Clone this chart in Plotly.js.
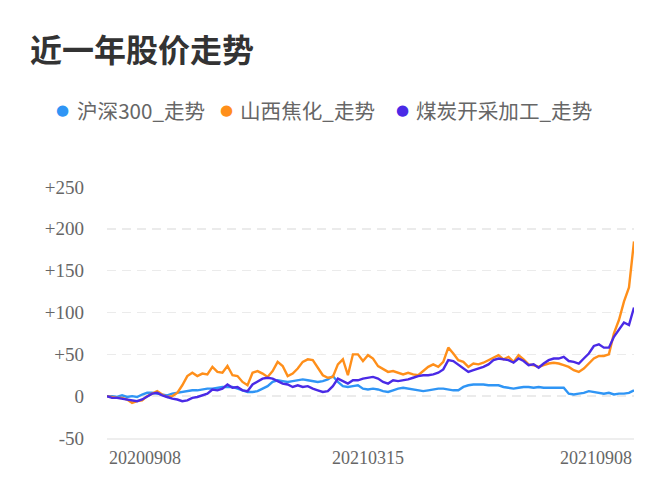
<!DOCTYPE html>
<html>
<head>
<meta charset="utf-8">
<script src="https://cdn.plot.ly/plotly-3.0.1.min.js"></script>
<style>
  html, body { margin: 0; padding: 0; background: #fff; }
  #chart { width: 672px; height: 500px; }
</style>
</head>
<body>
<div id="chart"></div>
<script>
/* ─── Data (percent change over the year, sampled) ─────────────────────── */
const seriesNames = ["沪深300_走势", "山西焦化_走势", "煤炭开采加工_走势"];
const seriesColors = ["#2f95f5", "#ff8f1a", "#4a2ae6"];

const hs300 = [
  0, 0, -1, 1, -1, 0, -1, 2, 4, 4, 3, 2, 1, 3, 4, 5, 6, 7, 7, 8,
  9, 9, 10, 11, 11, 11, 9, 7, 5, 5, 6, 9, 12, 17, 19, 18, 17, 18, 19, 20,
  19, 18, 17, 18, 20, 24, 17, 12, 11, 12, 13, 9, 8, 9, 8, 6, 5, 7, 9, 10,
  9, 8, 7, 6, 7, 8, 9, 9, 8, 7, 7, 11, 13, 14, 14, 14, 13, 13, 13, 11,
  10, 9, 10, 11, 11, 10, 11, 10, 10, 10, 10, 10, 3, 2, 3, 4, 6, 5, 4, 3,
  4, 2, 3, 3, 4, 7
];

const sxjh = [
  0, -1, -2, -2, -4, -8, -6, -5, 0, 3, 6, 2, -1, 0, 4, 13, 24, 28, 24, 27,
  26, 35, 29, 28, 36, 25, 24, 17, 13, 28, 30, 27, 23, 30, 41, 36, 24, 27, 33, 41,
  44, 43, 34, 25, 22, 23, 38, 44, 25, 50, 50, 42, 49, 45, 36, 32, 29, 30, 28, 26,
  28, 26, 25, 30, 35, 38, 35, 41, 58, 51, 43, 41, 35, 39, 38, 40, 43, 46, 49, 44,
  47, 41, 49, 44, 38, 37, 35, 37, 39, 40, 39, 37, 35, 31, 29, 33, 39, 45, 48, 48,
  50, 75, 91, 113, 130, 185
];

const coal = [
  0, -2, -2, -3, -4, -5, -6, -4, -1, 3, 4, 1, -1, -3, -4, -6, -5, -2, -1, 1,
  3, 8, 7, 9, 14, 10, 11, 7, 6, 14, 17, 21, 22, 21, 18, 15, 14, 11, 13, 11,
  12, 9, 7, 5, 6, 12, 21, 18, 15, 19, 19, 21, 22, 23, 21, 17, 15, 19, 18, 19,
  20, 22, 24, 25, 25, 26, 28, 32, 43, 42, 38, 34, 29, 31, 33, 35, 38, 43, 45, 44,
  43, 40, 45, 42, 37, 38, 34, 39, 43, 45, 45, 47, 42, 41, 39, 45, 51, 60, 62, 58,
  58, 71, 79, 88, 85, 106
];

const dateLabels = ["20200908", "20210315", "20210908"];
const yTickVals = [-50, 0, 50, 100, 150, 200, 250];
const yTickText = ["-50", "0", "+50", "+100", "+150", "+200", "+250"];

/* ─── Chart ────────────────────────────────────────────────────────────── */
const W = 672, H = 500;
const M = { l: 107, r: 38, t: 187, b: 62 };
const plotW = W - M.l - M.r, plotH = H - M.t - M.b;
// pixel position -> paper coordinates (for legend/label placement only)
const px = x => (x - M.l) / plotW;
const py = y => (H - M.b - y) / plotH;

const allSeries = [hs300, sxjh, coal];
const xIdx = hs300.map((_, i) => i);
const lastIdx = xIdx.length - 1;
const labelIdx = [0, 52, lastIdx];
const labelAnchor = ["left", "center", "right"];

const traces = allSeries.map((vals, k) => ({
  type: "scatter", mode: "lines", x: xIdx, y: vals,
  name: seriesNames[k], showlegend: false, hoverinfo: "skip",
  line: { color: seriesColors[k], width: 2.4 }
}));

const annotations = dateLabels.map((t, i) => ({
  text: t, x: labelIdx[i], xref: "x", xanchor: labelAnchor[i],
  y: 0, yref: "paper", yanchor: "top", yshift: -8, showarrow: false,
  font: { family: "Liberation Serif, serif", size: 18, color: "#666" }
}));

// legend row: dot + name, laid out like the original
const legendDotX = [62, 226, 402];
const legendTextX = [75, 238, 414];
seriesNames.forEach((n, k) => {
  annotations.push({
    text: "●", x: px(legendDotX[k]), xref: "paper", xanchor: "center",
    y: py(110), yref: "paper", yanchor: "middle", showarrow: false,
    font: { family: "DejaVu Sans", size: 15, color: seriesColors[k] }
  });
  annotations.push({
    text: n, x: px(legendTextX[k]), xref: "paper", xanchor: "left",
    y: py(110), yref: "paper", yanchor: "middle", showarrow: false,
    font: { family: "Noto Sans CJK SC", size: 20.6, color: "#666" }
  });
});

const layout = {
  width: W, height: H,
  paper_bgcolor: "#fff", plot_bgcolor: "#fff",
  margin: M,
  title: {
    text: "<b>近一年股价走势</b>", xref: "container", x: 30 / W, xanchor: "left",
    yref: "container", y: 1 - 51 / H, yanchor: "middle",
    font: { family: "Noto Sans CJK SC", size: 32, color: "#333" }
  },
  showlegend: false,
  xaxis: {
    range: [0, lastIdx], showgrid: false, zeroline: false,
    showticklabels: false, ticks: "", fixedrange: true,
    showline: true, linecolor: "#eee", linewidth: 1.5
  },
  yaxis: {
    range: [-50, 250], tickvals: yTickVals, ticktext: yTickText,
    showgrid: true, gridcolor: "#ebebeb", griddash: "9px,6px", gridwidth: 1.5,
    zeroline: false, showline: false, ticks: "", ticklabelstandoff: 22,
    tickfont: { family: "Liberation Serif, serif", size: 19, color: "#666" },
    fixedrange: true
  },
  annotations: annotations
};

Plotly.newPlot("chart", traces, layout, { displayModeBar: false, staticPlot: true });
</script>
</body>
</html>
